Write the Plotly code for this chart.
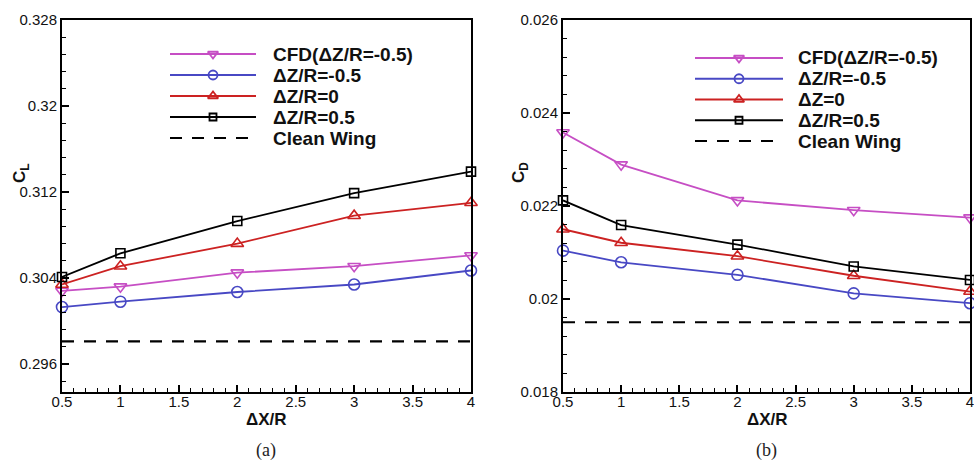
import plotly.graph_objects as go

W, H = 974, 463

# ---------------- data ----------------
dx = [0.5, 1, 2, 3, 4]

cl_cfd = [0.3028, 0.3032, 0.3045, 0.3051, 0.3061]
cl_m05 = [0.3013, 0.3018, 0.3027, 0.3034, 0.3047]
cl_0 = [0.3034, 0.3051, 0.3072, 0.3098, 0.3110]
cl_p05 = [0.3041, 0.3063, 0.3093, 0.3119, 0.3139]
cl_clean = 0.2981

cd_cfd = [0.02358, 0.02289, 0.02212, 0.02191, 0.02175]
cd_m05 = [0.02104, 0.02079, 0.02052, 0.02012, 0.01991]
cd_0 = [0.02150, 0.02121, 0.02092, 0.02050, 0.02016]
cd_p05 = [0.02212, 0.02159, 0.02117, 0.02070, 0.02041]
cd_clean = 0.01950

x_ticks = [0.5, 1, 1.5, 2, 2.5, 3, 3.5, 4]
x_ticktext = ["0.5", "1", "1.5", "2", "2.5", "3", "3.5", "4"]
cl_ticks = [0.296, 0.304, 0.312, 0.32, 0.328]
cl_ticktext = ["0.296", "0.304", "0.312", "0.32", "0.328"]
cd_ticks = [0.018, 0.02, 0.022, 0.024, 0.026]
cd_ticktext = ["0.018", "0.02", "0.022", "0.024", "0.026"]

names_a = ["CFD(\u0394Z/R=-0.5)", "\u0394Z/R=-0.5", "\u0394Z/R=0", "\u0394Z/R=0.5", "Clean Wing"]
names_b = ["CFD(\u0394Z/R=-0.5)", "\u0394Z/R=-0.5", "\u0394Z=0", "\u0394Z/R=0.5", "Clean Wing"]

# ---------------- styles ----------------
MAG = "#C64EC4"
BLU = "#4848C4"
RED = "#CC2222"
BLK = "#000000"
styles = [
    dict(color=MAG, symbol="triangle-down-open", size=11),
    dict(color=BLU, symbol="circle-open", size=11),
    dict(color=RED, symbol="triangle-up-open", size=11),
    dict(color=BLK, symbol="square-open", size=9),
]
FONT = "Liberation Sans, Arial, sans-serif"

fig = go.Figure()


def px_x(p):
    return p / W


def px_y(p):
    return 1 - p / H


def add_series(xa, ya, ys_list, clean):
    for ys, st in zip(ys_list, styles):
        fig.add_trace(go.Scatter(
            x=dx, y=ys, mode="lines+markers", xaxis=xa, yaxis=ya,
            line=dict(color=st["color"], width=1.8),
            marker=dict(symbol=st["symbol"], size=st["size"], color=st["color"],
                        line=dict(color=st["color"], width=1.6)),
            cliponaxis=False, showlegend=False, hoverinfo="skip"))
    fig.add_trace(go.Scatter(
        x=[dx[0], dx[-1]], y=[clean, clean], mode="lines", xaxis=xa, yaxis=ya,
        line=dict(color=BLK, width=2.2, dash="12px,10px"),
        showlegend=False, hoverinfo="skip"))


add_series("x", "y", [cl_cfd, cl_m05, cl_0, cl_p05], cl_clean)
add_series("x2", "y2", [cd_cfd, cd_m05, cd_0, cd_p05], cd_clean)

# ---------------- custom legends on helper axes ----------------
def add_legend(xa, ya):
    for i, st in enumerate(styles):
        fig.add_trace(go.Scatter(
            x=[0, 1], y=[i, i], mode="lines", xaxis=xa, yaxis=ya,
            line=dict(color=st["color"], width=2.2),
            cliponaxis=False, showlegend=False, hoverinfo="skip"))
        fig.add_trace(go.Scatter(
            x=[0.5], y=[i], mode="markers", xaxis=xa, yaxis=ya,
            marker=dict(symbol=st["symbol"], size=st["size"] - 2, color=st["color"],
                        line=dict(color=st["color"], width=1.8)),
            cliponaxis=False, showlegend=False, hoverinfo="skip"))
    fig.add_trace(go.Scatter(
        x=[0, 1], y=[4, 4], mode="lines", xaxis=xa, yaxis=ya,
        line=dict(color=BLK, width=2.2, dash="12px,10px"),
        cliponaxis=False, showlegend=False, hoverinfo="skip"))


add_legend("x3", "y3")
add_legend("x4", "y4")

# ---------------- axes ----------------
tickfont = dict(family=FONT, size=15, color="#111")
common_x = dict(range=[0.5, 4], tickmode="array", tickvals=x_ticks, ticktext=x_ticktext,
                ticks="inside", ticklen=7, tickwidth=2, tickcolor=BLK,
                showline=True, linewidth=2, linecolor=BLK, mirror=True,
                showgrid=False, zeroline=False, tickfont=tickfont, automargin=False,
                ticklabeloverflow="allow", ticklabelstandoff=-5,
                minor=dict(tick0=0.5, dtick=0.1, ticks="inside", ticklen=4,
                           tickwidth=1, tickcolor=BLK, showgrid=False))
common_y = dict(tickmode="array", ticks="inside", ticklen=7, tickwidth=2, tickcolor=BLK,
                showline=True, linewidth=2, linecolor=BLK, mirror=True,
                showgrid=False, zeroline=False, tickfont=tickfont, automargin=False,
                ticklabeloverflow="allow")
hidden = dict(visible=False, automargin=False, showgrid=False, zeroline=False)

ydom = [px_y(392), px_y(20)]
fig.update_layout(
    width=W, height=H, margin=dict(l=0, r=0, t=0, b=0),
    paper_bgcolor="white", plot_bgcolor="white",
    xaxis=dict(domain=[px_x(62), px_x(471)], anchor="y", **common_x),
    yaxis=dict(domain=ydom, anchor="x", range=[0.2934, 0.328],
               tickvals=cl_ticks, ticktext=cl_ticktext,
               minor=dict(tick0=0.296, dtick=0.0016, ticks="inside", ticklen=4,
                          tickwidth=1, tickcolor=BLK, showgrid=False),
               **common_y),
    xaxis2=dict(domain=[px_x(563), px_x(970)], anchor="y2", **common_x),
    yaxis2=dict(domain=ydom, anchor="x2", range=[0.018, 0.026],
                tickvals=cd_ticks, ticktext=cd_ticktext,
                minor=dict(tick0=0.018, dtick=0.0004, ticks="inside", ticklen=4,
                           tickwidth=1, tickcolor=BLK, showgrid=False),
                **common_y),
    xaxis3=dict(domain=[px_x(170), px_x(256)], anchor="y3", range=[0, 1], **hidden),
    yaxis3=dict(domain=[px_y(148.5), px_y(43.5)], anchor="x3", range=[4.5, -0.5], **hidden),
    xaxis4=dict(domain=[px_x(695), px_x(783)], anchor="y4", range=[0, 1], **hidden),
    yaxis4=dict(domain=[px_y(151.4), px_y(47.6)], anchor="x4", range=[4.5, -0.5], **hidden),
)

ann = []
lfont = dict(family=FONT, size=19, color="#111")
for i, nm in enumerate(names_a):
    ann.append(dict(x=px_x(271), xref="paper", y=i, yref="y3", text="<b>%s</b>" % nm,
                    xanchor="left", yanchor="middle", showarrow=False, font=lfont))
for i, nm in enumerate(names_b):
    ann.append(dict(x=px_x(796), xref="paper", y=i, yref="y4", text="<b>%s</b>" % nm,
                    xanchor="left", yanchor="middle", showarrow=False, font=lfont))

tfont = dict(family=FONT, size=17, color="#111")
ann += [
    dict(x=px_x(266), y=px_y(419), xref="paper", yref="paper", text="<b>\u0394X/R</b>",
         showarrow=False, font=tfont, xanchor="center", yanchor="middle"),
    dict(x=px_x(767), y=px_y(419), xref="paper", yref="paper", text="<b>\u0394X/R</b>",
         showarrow=False, font=tfont, xanchor="center", yanchor="middle"),
    dict(x=px_x(21), y=px_y(173), xref="paper", yref="paper", text="<b>C<sub>L</sub></b>",
         showarrow=False, font=tfont, textangle=-90, xanchor="center", yanchor="middle"),
    dict(x=px_x(520), y=px_y(173), xref="paper", yref="paper", text="<b>C<sub>D</sub></b>",
         showarrow=False, font=tfont, textangle=-90, xanchor="center", yanchor="middle"),
    dict(x=px_x(266), y=px_y(450), xref="paper", yref="paper", text="(a)",
         showarrow=False, font=dict(family="Liberation Serif, Times New Roman, serif", size=18, color="#222"),
         xanchor="center", yanchor="middle"),
    dict(x=px_x(766), y=px_y(450), xref="paper", yref="paper", text="(b)",
         showarrow=False, font=dict(family="Liberation Serif, Times New Roman, serif", size=18, color="#222"),
         xanchor="center", yanchor="middle"),
]
fig.update_layout(annotations=ann)

fig.write_html("out.html")
